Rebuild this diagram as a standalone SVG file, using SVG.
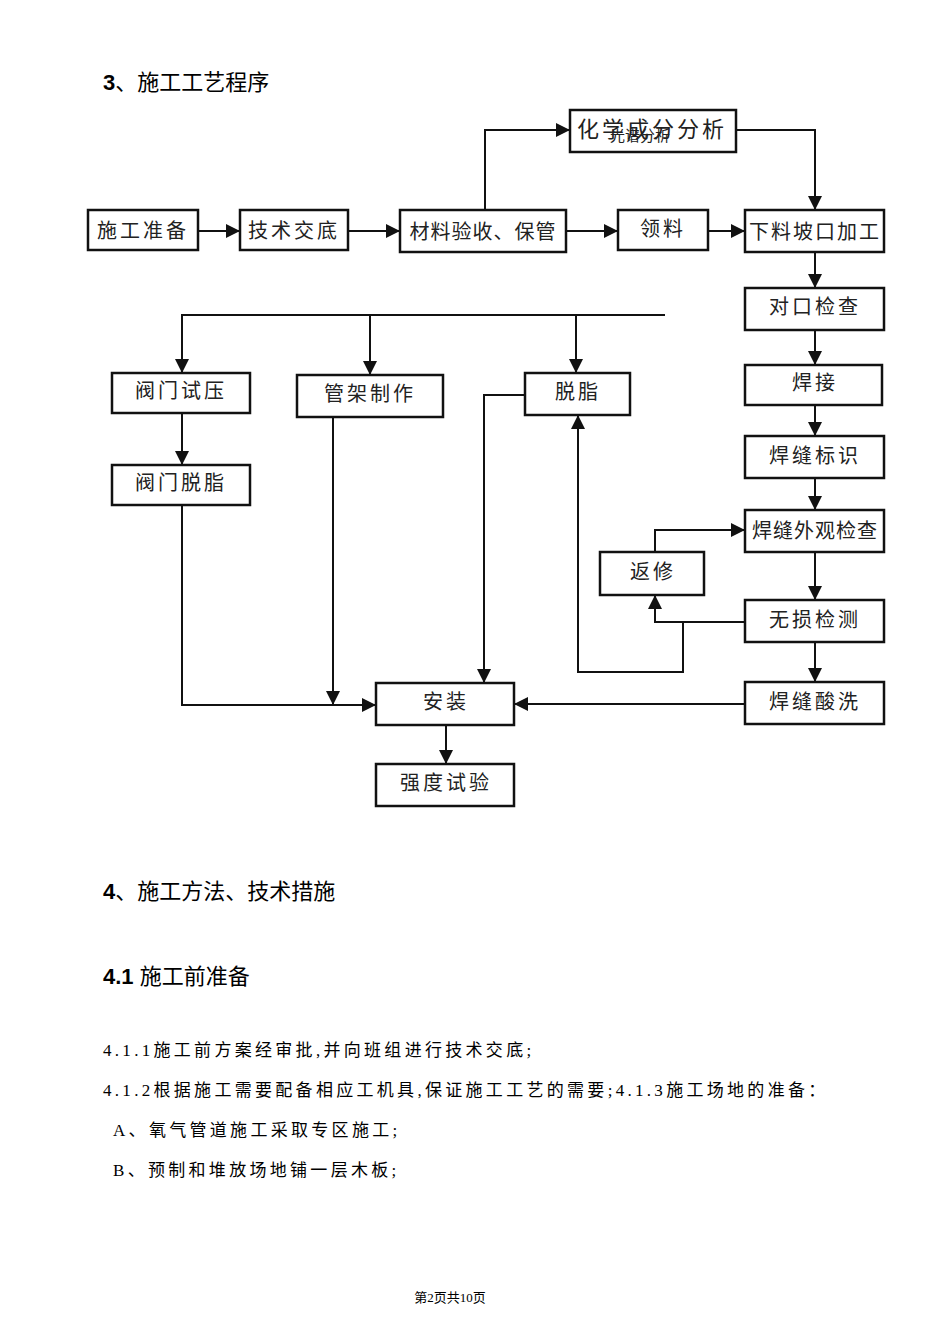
<svg xmlns="http://www.w3.org/2000/svg" width="950" height="1344" viewBox="0 0 950 1344">
<style>
.b rect{fill:#fff;stroke:#111;stroke-width:2.5}
.b text{font-family:"Liberation Serif","Noto Sans CJK SC",serif;font-size:20px;fill:#222;text-anchor:middle;letter-spacing:3px}
.c{fill:none;stroke:#111;stroke-width:2}
.h{font-family:"Liberation Sans","Noto Sans CJK SC",sans-serif;font-size:22px;fill:#000}
.t{font-family:"Liberation Serif","Noto Sans CJK SC",serif;font-size:17px;fill:#000;letter-spacing:3.3px}
</style>
<defs><marker id="A" viewBox="0 0 10 10" refX="10" refY="5" markerWidth="14" markerHeight="14" orient="auto" markerUnits="userSpaceOnUse"><path d="M0,0L10,5L0,10z" fill="#111"/></marker></defs>
<text class="h" x="103" y="90"><tspan font-weight="bold">3</tspan>、施工工艺程序</text>
<g id="connectors" class="c" marker-end="url(#A)">
<path d="M198,231H240"/><path d="M348,231H400"/><path d="M566,231H618"/><path d="M708,231H745"/>
<path d="M485,210V130H570"/><path d="M736,130H815V210"/>
<path d="M815,252V288"/><path d="M815,330V365"/><path d="M815,405V436"/><path d="M815,478V510"/><path d="M815,552V600"/><path d="M815,642V682"/>
<path d="M655,552V530H745"/><path d="M745,622H655V595"/><path d="M683,622V672H578V415"/>
<path d="M665,315H182V373"/><path d="M370,315V375"/><path d="M576,315V373"/>
<path d="M182,413V465"/><path d="M525,395H484V683"/><path d="M333,417V705"/><path d="M182,505V705H376"/>
<path d="M745,704H514"/><path d="M446,725V764"/>
</g>
<g id="n1" class="b"><rect x="88" y="210" width="110" height="40"/><text x="143" y="238">施工准备</text></g>
<g id="n2" class="b"><rect x="240" y="210" width="108" height="40"/><text x="294" y="238">技术交底</text></g>
<g id="n3" class="b"><rect x="400" y="210" width="166" height="42"/><text x="483" y="239" style="letter-spacing:1px">材料验收、保管</text></g>
<g id="n4" class="b"><rect x="618" y="210" width="90" height="40"/><text x="663" y="236">领料</text></g>
<g id="n5" class="b"><rect x="745" y="210" width="139" height="42"/><text x="815" y="239" style="letter-spacing:2px">下料坡口加工</text></g>
<g id="n6" class="b"><rect x="570" y="110" width="166" height="42"/><text x="652" y="137" style="font-size:22px">化学成分分析</text><text x="640" y="141" style="font-size:15px;letter-spacing:0">光谱分析</text></g>
<g id="n7" class="b"><rect x="745" y="288" width="139" height="42"/><text x="815" y="314">对口检查</text></g>
<g id="n8" class="b"><rect x="745" y="365" width="137" height="40"/><text x="815" y="390">焊接</text></g>
<g id="n9" class="b"><rect x="745" y="436" width="139" height="42"/><text x="815" y="463">焊缝标识</text></g>
<g id="n10" class="b"><rect x="745" y="510" width="139" height="42"/><text x="815" y="538" style="letter-spacing:1px">焊缝外观检查</text></g>
<g id="n11" class="b"><rect x="600" y="552" width="104" height="43"/><text x="653" y="579">返修</text></g>
<g id="n12" class="b"><rect x="745" y="600" width="139" height="42"/><text x="815" y="627">无损检测</text></g>
<g id="n13" class="b"><rect x="745" y="682" width="139" height="42"/><text x="815" y="709">焊缝酸洗</text></g>
<g id="n14" class="b"><rect x="112" y="373" width="138" height="40"/><text x="181" y="398">阀门试压</text></g>
<g id="n15" class="b"><rect x="112" y="465" width="138" height="40"/><text x="181" y="490">阀门脱脂</text></g>
<g id="n16" class="b"><rect x="297" y="375" width="146" height="42"/><text x="370" y="401">管架制作</text></g>
<g id="n17" class="b"><rect x="525" y="373" width="105" height="42"/><text x="578" y="399">脱脂</text></g>
<g id="n18" class="b"><rect x="376" y="683" width="138" height="42"/><text x="446" y="709">安装</text></g>
<g id="n19" class="b"><rect x="376" y="764" width="138" height="42"/><text x="446" y="790">强度试验</text></g>
<text class="h" x="103" y="899"><tspan font-weight="bold">4</tspan>、施工方法、技术措施</text>
<text class="h" x="103" y="984"><tspan font-weight="bold">4.1</tspan> 施工前准备</text>
<text class="t" x="103" y="1056">4.1.1施工前方案经审批,并向班组进行技术交底;</text>
<text class="t" x="103" y="1096">4.1.2根据施工需要配备相应工机具,保证施工工艺的需要;4.1.3施工场地的准备：</text>
<text class="t" x="113" y="1136">A、氧气管道施工采取专区施工;</text>
<text class="t" x="113" y="1176">B、预制和堆放场地铺一层木板;</text>
<text x="450" y="1302" style="font-family:'Liberation Serif','Noto Sans CJK SC',serif;font-size:13px;text-anchor:middle">第2页共10页</text>
</svg>
